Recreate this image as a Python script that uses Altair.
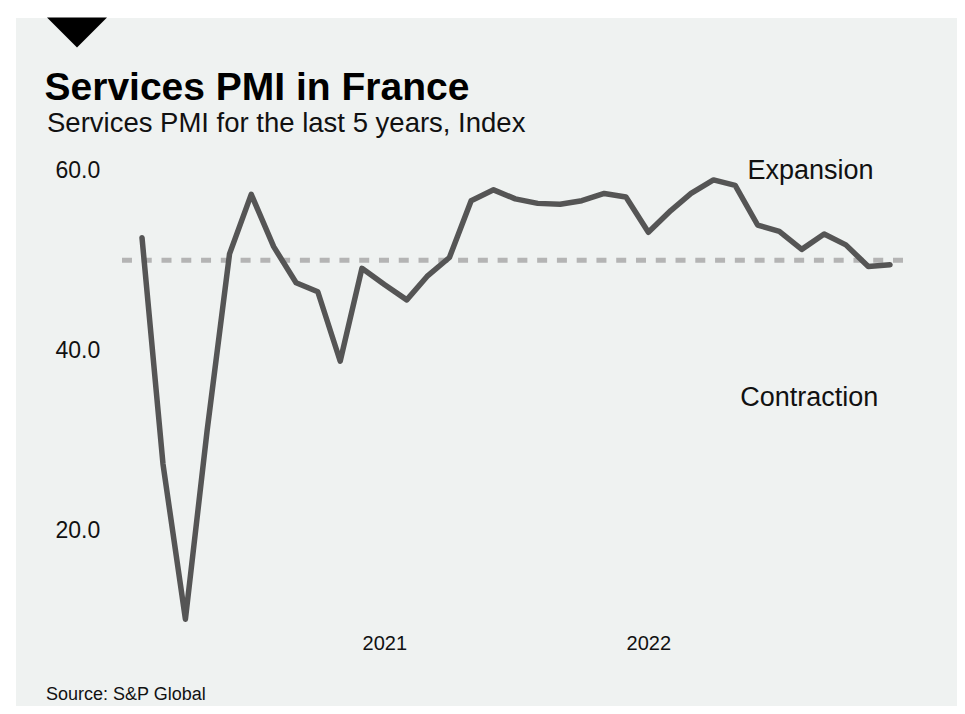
import altair as alt
import pandas as pd

# ---- data -------------------------------------------------------------
months = [
    "2020-02-01", "2020-03-01", "2020-04-01", "2020-05-01", "2020-06-01", "2020-07-01",
    "2020-08-01", "2020-09-01", "2020-10-01", "2020-11-01", "2020-12-01",
    "2021-01-01", "2021-02-01", "2021-03-01", "2021-04-01", "2021-05-01", "2021-06-01",
    "2021-07-01", "2021-08-01", "2021-09-01", "2021-10-01", "2021-11-01", "2021-12-01",
    "2022-01-01", "2022-02-01", "2022-03-01", "2022-04-01", "2022-05-01", "2022-06-01",
    "2022-07-01", "2022-08-01", "2022-09-01", "2022-10-01", "2022-11-01", "2022-12-01",
]
pmi = [
    52.5, 27.4, 10.2, 31.1, 50.7, 57.3, 51.5, 47.5, 46.5, 38.8, 49.1,
    47.3, 45.6, 48.2, 50.3, 56.6, 57.8, 56.8, 56.3, 56.2, 56.6, 57.4, 57.0,
    53.1, 55.5, 57.4, 58.9, 58.3, 53.9, 53.2, 51.2, 52.9, 51.7, 49.3, 49.5,
]
y_ticks = [20, 40, 60]
x_tick_years = [2021, 2022]
threshold = 50

annot_labels = ["Expansion", "Contraction"]
annot_dates = ["2022-05-18", "2022-05-08"]
annot_values = [59.0, 33.85]

title_text = "Services PMI in France"
subtitle_text = "Services PMI for the last 5 years, Index"
source_text = "Source: S&P Global"

# ---- styling ----------------------------------------------------------
FONT = "Liberation Sans, Arial, Helvetica, sans-serif"
BG = "#eff2f1"
LINE_COLOR = "#555555"
RULE_COLOR = "#b4b4b4"

W, H = 781, 451

df = pd.DataFrame({"month": [m + "T00:00:00" for m in months], "pmi": pmi})
ann = pd.DataFrame({"label": annot_labels,
                    "month": [d + "T00:00:00" for d in annot_dates],
                    "value": annot_values})
one = pd.DataFrame({"k": [0]})

x_scale = alt.Scale(domain=[alt.DateTime(year=2020, month=1, date=4, hours=8),
                            alt.DateTime(year=2022, month=12, date=19)])
y_scale = alt.Scale(domain=[10, 60], nice=False, zero=False)

x_axis = alt.Axis(
    values=[alt.DateTime(year=yy, month=1, date=1) for yy in x_tick_years],
    format="%Y", title=None, grid=False, domain=False, ticks=False, tickSize=0,
    labelFont=FONT, labelFontSize=20, labelColor="#111111",
    labelPadding=22, labelBaseline="middle", labelFlush=False, zindex=2,
)
y_axis = alt.Axis(
    values=y_ticks, format=".1f", title=None, grid=False, domain=False,
    ticks=False, tickSize=0, labelFont=FONT, labelFontSize=23,
    labelColor="#111111", labelAlign="left", labelBaseline="middle",
    labelPadding=67, zindex=2,
)

bg = alt.Chart(one).mark_rect(color=BG).encode(
    x=alt.value(-106), x2=alt.value(835), y=alt.value(-152), y2=alt.value(536)
)

triangle = alt.Chart(one).mark_point(
    shape="M-1,-0.5L1,-0.5L0,0.5Z", filled=True, color="black", opacity=1,
    size=3600, strokeWidth=0,
).encode(x=alt.value(-45), y=alt.value(-137.5))

rule = alt.Chart(one).mark_rule(
    color=RULE_COLOR, strokeWidth=5, strokeDash=[10, 9.77]
).encode(y=alt.YDatum(threshold, scale=y_scale, axis=y_axis))

line = alt.Chart(df).mark_line(
    color=LINE_COLOR, strokeWidth=5.5, strokeCap="round", strokeJoin="round"
).encode(
    x=alt.X("month:T", scale=x_scale, axis=x_axis),
    y=alt.Y("pmi:Q", scale=y_scale, axis=y_axis),
)

annots = alt.Chart(ann).mark_text(
    font=FONT, fontSize=27, color="#111111", align="left", baseline="alphabetic"
).encode(
    x=alt.X("month:T", scale=x_scale, axis=x_axis),
    y=alt.Y("value:Q", scale=y_scale, axis=y_axis),
    text="label:N",
)

title = alt.Chart(one).mark_text(
    text=title_text, font=FONT, fontSize=39, fontWeight="bold", color="black",
    align="left", baseline="alphabetic",
).encode(x=alt.value(-77.5), y=alt.value(-70))

subtitle = alt.Chart(one).mark_text(
    text=subtitle_text, font=FONT, fontSize=27.5, color="#111111",
    align="left", baseline="alphabetic",
).encode(x=alt.value(-75), y=alt.value(-38))

source = alt.Chart(one).mark_text(
    text=source_text, font=FONT, fontSize=18, color="#111111",
    align="left", baseline="alphabetic",
).encode(x=alt.value(-76), y=alt.value(530))

chart = alt.layer(bg, triangle, rule, line, annots, title, subtitle, source).properties(
    width=W, height=H,
    autosize=alt.AutoSizeParams(type="none"),
    padding={"left": 114, "top": 162, "right": 54, "bottom": 85},
).configure(background="white").configure_view(stroke=None)

chart.save("out.html", embed_options={"renderer": "svg", "actions": False})
